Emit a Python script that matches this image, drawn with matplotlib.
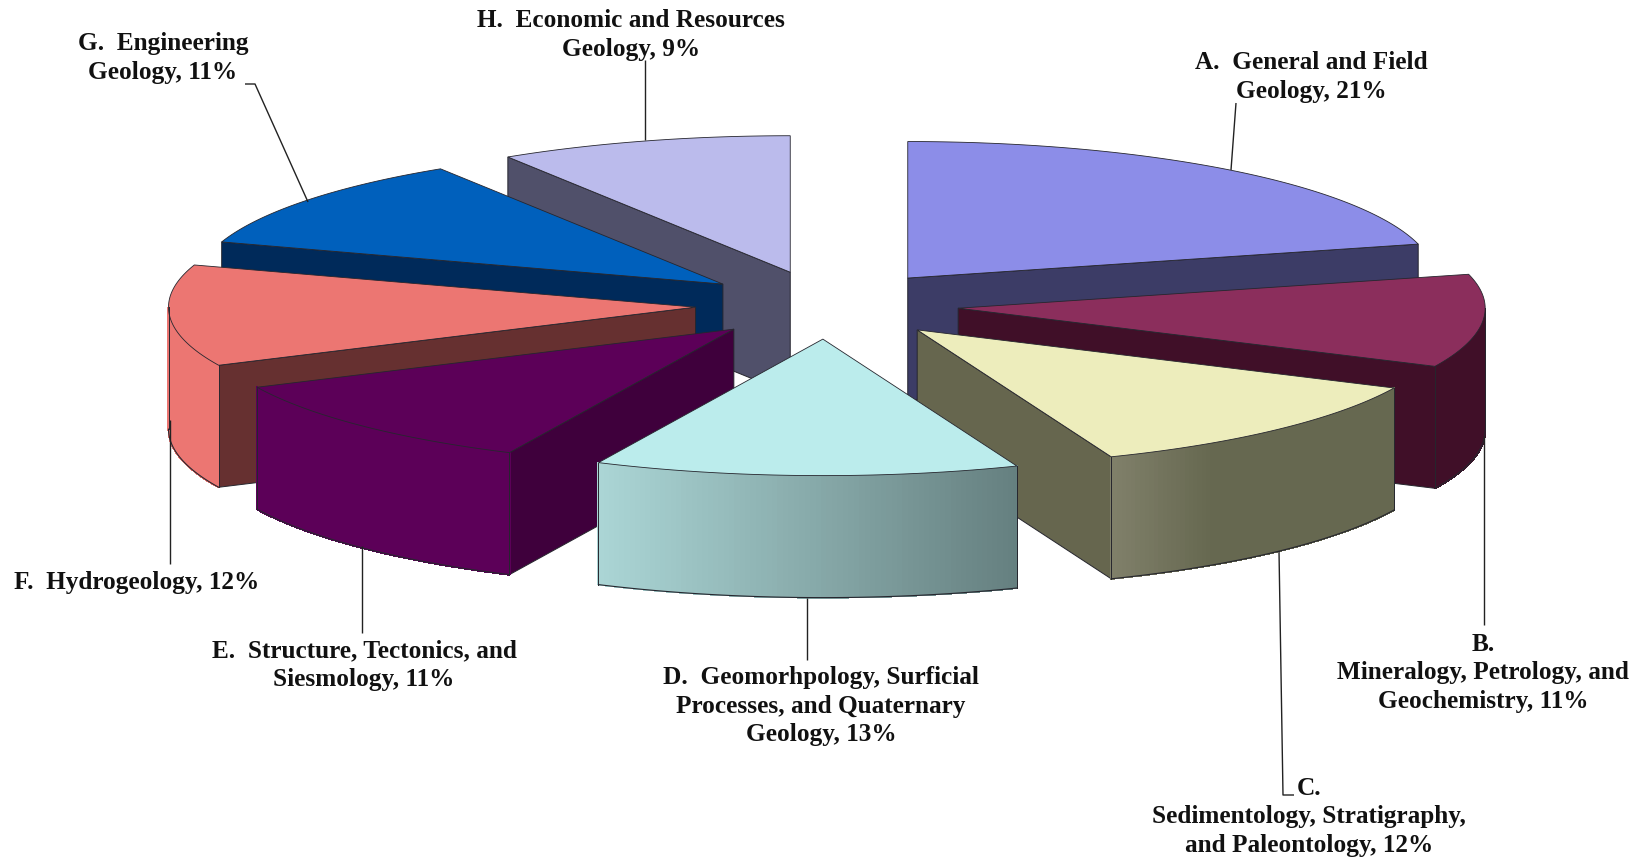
import numpy as np
import matplotlib
matplotlib.use("Agg")
import matplotlib.pyplot as plt
from matplotlib.patches import Polygon

# ---- data ----
labels = ["A.  General and Field\nGeology, 21%",
          "B.\nMineralogy, Petrology, and\nGeochemistry, 11%",
          "C.\nSedimentology, Stratigraphy,\nand Paleontology, 12%",
          "D.  Geomorhpology, Surficial\nProcesses, and Quaternary\nGeology, 13%",
          "E.  Structure, Tectonics, and\nSiesmology, 11%",
          "F.  Hydrogeology, 12%",
          "G.  Engineering\nGeology, 11%",
          "H.  Economic and Resources\nGeology, 9%"]
values = [21, 11, 12, 13, 11, 12, 11, 9]
top_colors = ["#8C8DE8", "#8B2E5C", "#EDEDBC", "#BBECEC", "#5C0058", "#EC7672", "#0060BC", "#BBBBEC"]
face_colors = ["#3C3C66", "#400F28", "#66664E", "#66807F", "#3F003C", "#663030", "#002A5A", "#50506A"]
rim_left = ["#3C3C66", "#400F28", "#80806A", "#ABD6D6", "#5C0058", "#EC7672", "#002A5A", "#50506A"]
rim_right = ["#3C3C66", "#400F28", "#666850", "#657F7F", "#5C0058", "#EC7672", "#002A5A", "#50506A"]
rim_fade = [1, 1, 0.35, 1, 1, 1, 1, 1]

# ---- layout (pixels of the 1647x859 figure) ----
CX, CY = 827.0, 305.0
RX, RY = 527.0, 136.5
DEPTH = 122.0
EXPLODE = 0.25
EDGE = "#26262e"
draw_order = [0, 7, 6, 1, 5, 2, 4, 3]
label_pos = [(1311, 77), (1483, 673), (1309, 817), (821, 706), (364, 665), (137, 583), (163, 58), (631, 35)]
leaders = [[(1236, 103), (1231, 170)],
           [(1484, 436), (1484, 625)],
           [(1279, 551), (1283, 795), (1294, 795)],
           [(807, 598), (807, 660)],
           [(362, 546), (362, 633)],
           [(170, 420), (170, 564)],
           [(308, 202), (255, 84), (245, 84)],
           [(645, 140), (645, 60)]]

fig = plt.figure(figsize=(16.47, 8.59), dpi=100)
ax = fig.add_axes([0, 0, 1, 1])
ax.set_xlim(0, 1647)
ax.set_ylim(859, 0)
ax.axis("off")

fractions = np.array(values) / np.sum(values)
ends = np.cumsum(fractions) * 360.0
starts = ends - fractions * 360.0


def hex2rgb(c):
    return np.array(matplotlib.colors.to_rgb(c))


for i in draw_order:
    a0, a1 = starts[i], ends[i]
    mid = np.radians((a0 + a1) / 2)
    ox = CX + EXPLODE * RX * np.sin(mid)
    oy = CY - EXPLODE * RY * np.cos(mid)

    def pt(deg):
        r = np.radians(deg)
        return ox + RX * np.sin(r), oy - RY * np.cos(r)

    # radial side faces
    for ang, show in ((a0, 180 < a0 < 360), (a1, 0 < a1 < 180)):
        if show:
            x, y = pt(ang)
            ax.add_patch(Polygon([(ox, oy), (x, y), (x, y + DEPTH), (ox, oy + DEPTH)],
                                 closed=True, facecolor=face_colors[i], edgecolor=EDGE, lw=0.7))

    # outer rim, shaded in strips
    r0, r1 = max(a0, 90), min(a1, 270)
    if r1 > r0:
        arc = np.linspace(r0, r1, 80)
        xs = np.array([pt(a)[0] for a in arc])
        ys = np.array([pt(a)[1] for a in arc])
        xl, xr = xs.min(), xs.max()
        cl, cr = hex2rgb(rim_left[i]), hex2rgb(rim_right[i])
        for k in range(len(arc) - 1):
            t = ((xs[k] + xs[k + 1]) / 2 - xl) / (xr - xl)
            c = cl + (cr - cl) * min(t / rim_fade[i], 1.0)
            ax.add_patch(Polygon([(xs[k], ys[k]), (xs[k + 1], ys[k + 1]),
                                  (xs[k + 1], ys[k + 1] + DEPTH), (xs[k], ys[k] + DEPTH)],
                                 closed=True, facecolor=c, edgecolor=c, lw=0.8, antialiased=False))
        ax.plot(xs, ys + DEPTH, color=EDGE, lw=0.8)
        ax.plot([xs[0], xs[0]], [ys[0], ys[0] + DEPTH], color=EDGE, lw=0.7)
        ax.plot([xs[-1], xs[-1]], [ys[-1], ys[-1] + DEPTH], color=EDGE, lw=0.7)

    # top
    arc = np.linspace(a0, a1, 120)
    poly = [(ox, oy)] + [pt(a) for a in arc]
    ax.add_patch(Polygon(poly, closed=True, facecolor=top_colors[i], edgecolor=EDGE, lw=0.6))

for seg in leaders:
    ax.plot([p[0] for p in seg], [p[1] for p in seg], color="#222222", lw=1.0, solid_capstyle="butt")

for lab, (x, y) in zip(labels, label_pos):
    ax.text(x, y, lab, ha="center", va="center", family="Liberation Serif", weight="bold",
            fontsize=18.2, color="#111111", linespacing=1.3)

fig.savefig("out.png", dpi=100)
